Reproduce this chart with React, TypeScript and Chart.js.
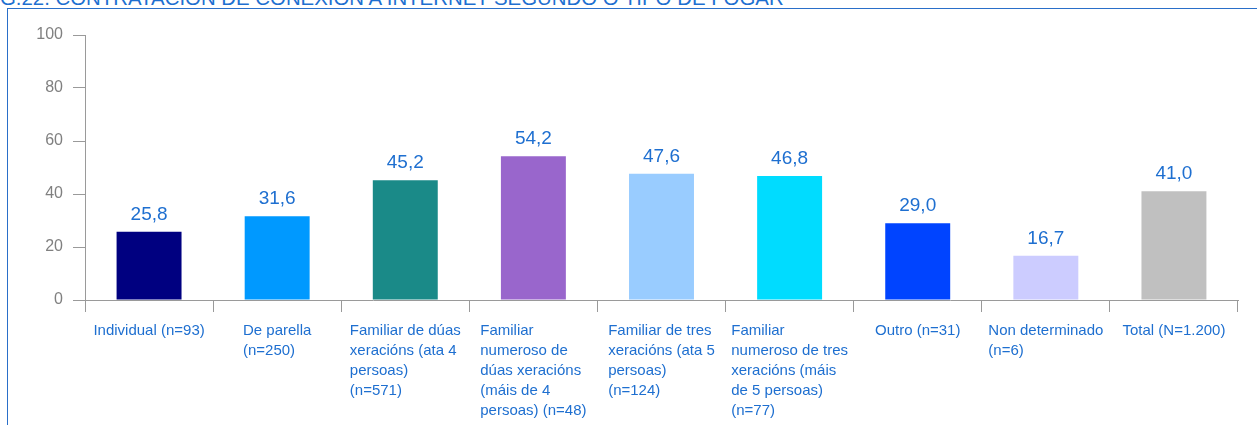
import React, { useEffect, useRef } from "react";
import { Chart, registerables } from "chart.js";

Chart.register(...registerables);

const TITLE = "G.22. CONTRATACIÓN DE CONEXIÓN A INTERNET SEGUNDO O TIPO DE FOGAR";

const categoryLines: string[][] = [
  ["Individual (n=93)"],
  ["De parella", "(n=250)"],
  ["Familiar de dúas", "xeracións (ata 4", "persoas)", "(n=571)"],
  ["Familiar", "numeroso de", "dúas xeracións", "(máis de 4", "persoas) (n=48)"],
  ["Familiar de tres", "xeracións (ata 5", "persoas)", "(n=124)"],
  ["Familiar", "numeroso de tres", "xeracións (máis", "de 5 persoas)", "(n=77)"],
  ["Outro (n=31)"],
  ["Non determinado", "(n=6)"],
  ["Total (N=1.200)"],
];

const values: number[] = [25.8, 31.6, 45.2, 54.2, 47.6, 46.8, 29.0, 16.7, 41.0];

const barColors: string[] = [
  "#000080",
  "#0099FF",
  "#1A8A88",
  "#9966CC",
  "#99CCFF",
  "#00DCFF",
  "#0044FF",
  "#CCCCFF",
  "#C0C0C0",
];

const yTicks: number[] = [0, 20, 40, 60, 80, 100];

const BLUE = "#1E6FD0";
const AXIS = "#9A9A9A";
const FONT = "Arial, 'Liberation Sans', sans-serif";

const labelsPlugin = {
  id: "customLabels",
  afterDraw(chart: any) {
    const ctx = chart.ctx;
    const xScale = chart.scales.x;
    const area = chart.chartArea;
    ctx.save();
    // value labels
    const meta = chart.getDatasetMeta(0);
    ctx.font = `19px ${FONT}`;
    ctx.fillStyle = BLUE;
    ctx.textAlign = "center";
    ctx.textBaseline = "alphabetic";
    meta.data.forEach((bar: any, i: number) => {
      const txt = values[i].toFixed(1).replace(".", ",");
      ctx.fillText(txt, bar.x, bar.y - 12);
    });
    // category labels: centered block, left-aligned lines
    ctx.font = `15px ${FONT}`;
    ctx.textAlign = "left";
    ctx.textBaseline = "middle";
    categoryLines.forEach((lines, i) => {
      const cx = xScale.getPixelForValue(i);
      let w = 0;
      lines.forEach((l) => {
        w = Math.max(w, ctx.measureText(l).width);
      });
      const sx = cx - w / 2;
      lines.forEach((l, j) => {
        ctx.fillText(l, sx, area.bottom + 31 + 20 * j);
      });
    });
    ctx.restore();
  },
};

export default function App() {
  const ref = useRef<HTMLCanvasElement | null>(null);

  useEffect(() => {
    if (!ref.current) return;
    const chart = new Chart(ref.current, {
      type: "bar",
      data: {
        labels: categoryLines.map((l) => l.join(" ")),
        datasets: [
          {
            data: values,
            backgroundColor: barColors,
            borderWidth: 0,
            categoryPercentage: 1,
            barPercentage: 0.507,
          },
        ],
      },
      options: {
        animation: false,
        responsive: false,
        maintainAspectRatio: false,
        layout: { padding: { left: 0, top: 35, right: 19, bottom: 0 } },
        plugins: {
          legend: { display: false },
          tooltip: { enabled: false },
          title: { display: false },
        },
        scales: {
          x: {
            offset: true,
            ticks: { display: false },
            grid: {
              offset: true,
              drawOnChartArea: false,
              drawTicks: true,
              tickLength: 12,
              color: AXIS,
              lineWidth: 1,
            },
            border: { display: true, color: AXIS, width: 1 },
            afterFit(s: any) {
              s.height = 125;
              s.paddingLeft = 0;
              s.paddingRight = 0;
            },
          },
          y: {
            min: 0,
            max: 100,
            afterBuildTicks(s: any) {
              s.ticks = yTicks.map((v) => ({ value: v }));
            },
            ticks: {
              color: "#808080",
              font: { family: FONT, size: 16 },
              padding: 10,
            },
            grid: {
              drawOnChartArea: false,
              drawTicks: true,
              tickLength: 12,
              color: AXIS,
              lineWidth: 1,
            },
            border: { display: true, color: AXIS, width: 1 },
            afterFit(s: any) {
              s.width = 85;
            },
          },
        },
      },
      plugins: [labelsPlugin],
    });
    return () => chart.destroy();
  }, []);

  return (
    <div
      style={{
        position: "fixed",
        left: 0,
        top: 0,
        width: 1257,
        height: 425,
        overflow: "hidden",
        background: "#ffffff",
      }}
    >
      <div
        style={{
          position: "absolute",
          left: 0,
          top: -12,
          fontFamily: FONT,
          fontSize: 20.4,
          lineHeight: "20px",
          color: BLUE,
          whiteSpace: "nowrap",
        }}
      >
        {TITLE}
      </div>
      <div
        style={{
          position: "absolute",
          left: 7,
          top: 8,
          width: 1260,
          height: 430,
          borderTop: "1px solid #2A6FC9",
          borderLeft: "1px solid #2A6FC9",
        }}
      />
      <canvas
        ref={ref}
        width={1257}
        height={425}
        style={{ position: "absolute", left: 0, top: 0, width: 1257, height: 425 }}
      />
    </div>
  );
}
